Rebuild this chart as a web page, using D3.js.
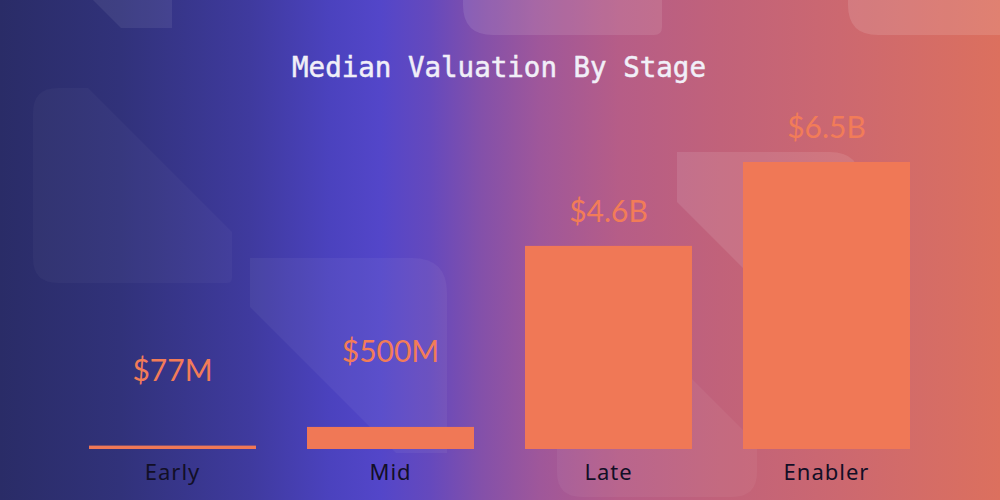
<!DOCTYPE html>
<html>
<head>
<meta charset="utf-8">
<script src="https://cdn.jsdelivr.net/npm/d3@7"></script>
<style>
  html, body { margin: 0; padding: 0; background: #2a2c68; }
  svg { display: block; }
</style>
</head>
<body>
<svg id="chart" width="1000" height="500"></svg>
<script>
// ---- data ----
const title = "Median Valuation By Stage";
const categories = ["Early", "Mid", "Late", "Enabler"];
const values = [0.077, 0.5, 4.6, 6.5];          // USD billions
const valueLabels = ["$77M", "$500M", "$4.6B", "$6.5B"];

// ---- setup ----
const W = 1000, H = 500;
const svg = d3.select("#chart");
const defs = svg.append("defs");

const grad = defs.append("linearGradient")
  .attr("id", "bg").attr("x1", "0").attr("y1", "0").attr("x2", "1").attr("y2", "0");
[
  [0.00, "#2a2c67"],
  [0.12, "#31327a"],
  [0.25, "#3f3a9e"],
  [0.33, "#4b42be"],
  [0.38, "#5346c9"],
  [0.43, "#6549bd"],
  [0.48, "#8350aa"],
  [0.54, "#9f579a"],
  [0.62, "#b65d87"],
  [0.72, "#c1627a"],
  [0.84, "#cc6870"],
  [1.00, "#dc705e"]
].forEach(([o, c]) => grad.append("stop").attr("offset", o).attr("stop-color", c));

svg.append("rect").attr("width", W).attr("height", H).attr("fill", "url(#bg)");

// decorative translucent shapes
const shapes = [
  ["M93,0 L172,0 L172,28 L121,28 Z", 0.07],
  ["M58,88 L88,88 L232,232 L232,278 Q232,283 227,283 L58,283 Q33,283 33,258 L33,113 Q33,88 58,88 Z", 0.03],
  ["M250,258 L412,258 Q447,258 447,293 L447,453 L396,453 L250,307 Z", 0.05],
  ["M463,0 L662,0 L662,27 Q662,35 654,35 L493,35 Q463,35 463,5 Z", 0.1],
  ["M848,0 L1000,0 L1000,35 L878,35 Q848,35 848,5 Z", 0.12],
  ["M677,152 L830,152 Q860,152 860,182 L860,440 L743,440 L743,268 L677,202 Z", 0.1],
  ["M582,300 L613,300 L757,444 L757,472 Q757,497 732,497 L582,497 Q557,497 557,472 L557,325 Q557,300 582,300 Z", 0.05]
];
svg.append("g").selectAll("path").data(shapes).join("path")
  .attr("d", d => d[0]).attr("fill", "#ffffff").attr("fill-opacity", d => d[1]);

// ---- scales ----
const x = d3.scaleBand().domain(categories).range([38, 961])
  .paddingInner(0.234).paddingOuter(0.234);
const y = d3.scaleLinear().domain([0, 6.5]).range([449, 162]);

// title
svg.append("text")
  .attr("x", 499).attr("y", 77)
  .attr("text-anchor", "middle")
  .attr("font-family", "'DejaVu Sans Mono', 'Liberation Mono', monospace")
  .attr("font-size", 27.5)
  .attr("fill", "#f1eff8")
  .attr("stroke", "#f1eff8")
  .attr("stroke-width", 0.5)
  .text(title);

// bars
const data = categories.map((c, i) => ({ c, v: values[i], label: valueLabels[i] }));
svg.append("g").selectAll("rect").data(data).join("rect")
  .attr("x", d => x(d.c))
  .attr("width", x.bandwidth())
  .attr("y", d => y(d.v))
  .attr("height", d => y(0) - y(d.v))
  .attr("fill", "#f07856");

// value labels
svg.append("g").selectAll("text").data(data).join("text")
  .attr("x", d => x(d.c) + x.bandwidth() / 2)
  .attr("y", d => y(d.v) - (d.v < 1 ? 65 : 24))
  .attr("text-anchor", "middle")
  .attr("font-family", "Lato, 'Open Sans', sans-serif")
  .attr("font-weight", 400)
  .attr("font-size", 30)
  .attr("fill", "#f27c58")
  .text(d => d.label);

// category axis
const axis = svg.append("g")
  .attr("transform", `translate(0,${y(0)})`)
  .call(d3.axisBottom(x).tickSize(0));
axis.select(".domain").remove();
axis.selectAll("text")
  .attr("y", 31).attr("dy", 0)
  .attr("font-family", "'Noto Sans', sans-serif")
  .attr("font-size", 22)
  .attr("letter-spacing", 1)
  .attr("fill", "#120f26");
</script>
</body>
</html>
